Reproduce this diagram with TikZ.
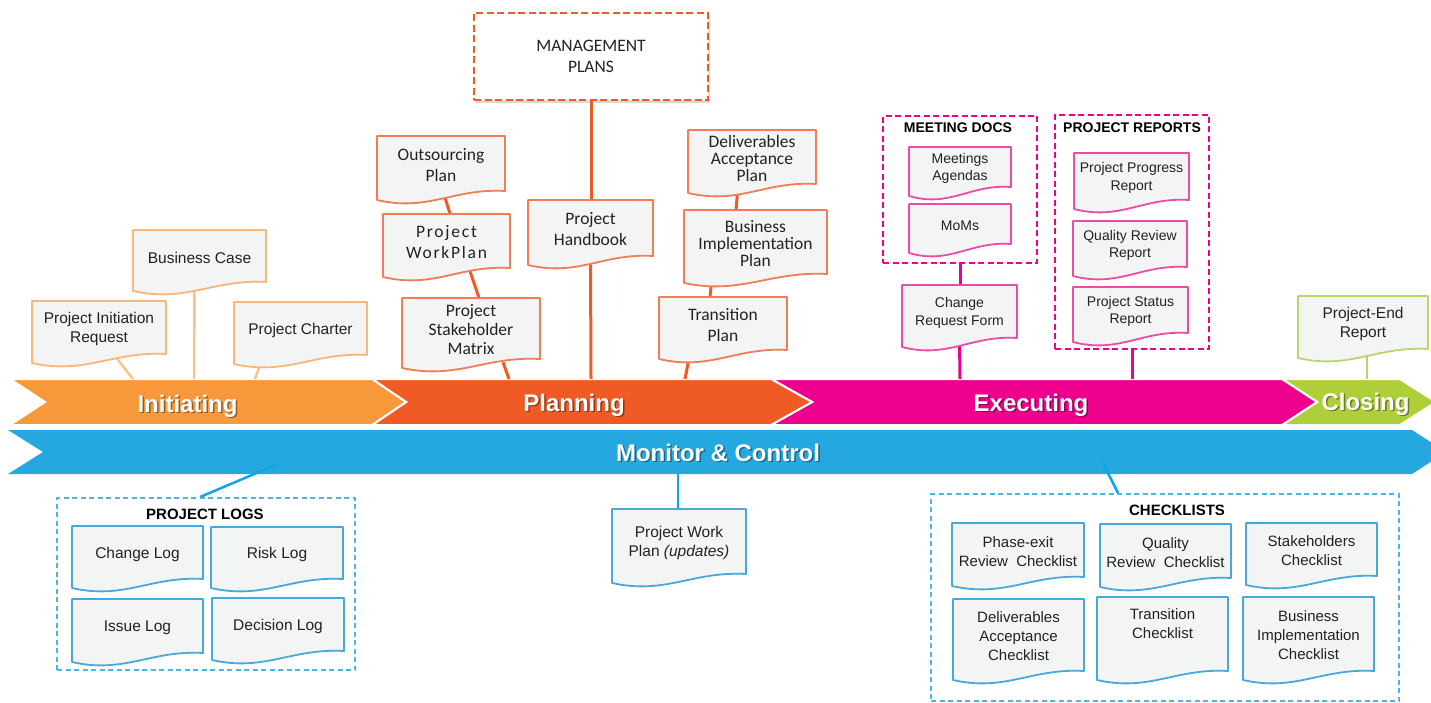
\documentclass[tikz,border=0pt]{standalone}
\usepackage{fontspec}
\setmainfont{Liberation Sans}
\newfontfamily\calf{Carlito}
\newfontfamily\calfsp[LetterSpace=10]{Carlito}
\usetikzlibrary{shadows}
\pgfdeclarelayer{background}
\pgfsetlayers{background,main}

\definecolor{cInit}{HTML}{F7993B}
\definecolor{cInitL}{HTML}{F9B679}
\definecolor{cInitLine}{HTML}{F9C28F}
\definecolor{cPlan}{HTML}{EF5A25}
\definecolor{cPlanL}{HTML}{F27C55}
\definecolor{cExec}{HTML}{EC008C}
\definecolor{cExecL}{HTML}{EE4BA6}
\definecolor{cClose}{HTML}{AFCF3A}
\definecolor{cCloseL}{HTML}{B7D670}
\definecolor{cMon}{HTML}{25A8E0}
\definecolor{cMonL}{HTML}{47A9DB}
\definecolor{cMonLine}{HTML}{12A3E6}
\definecolor{cMonDash}{HTML}{4DB5E6}
\definecolor{docgray}{HTML}{F3F4F4}
\definecolor{txt}{HTML}{222222}

\newcommand{\myfA}{\fontsize{15.5}{19}\selectfont}
\newcommand{\myfM}{\fontsize{15}{19}\selectfont}
\newcommand{\myfS}{\fontsize{14}{17.3}\selectfont}
\newcommand{\myfC}{\calf\fontsize{17.5}{21}\selectfont}
\newcommand{\myfCm}{\calf\fontsize{17.5}{19}\selectfont}
\newcommand{\myfCt}{\calf\fontsize{17.5}{16.7}\selectfont}
\newcommand{\myfCsp}{\calfsp\fontsize{17.5}{21}\selectfont}

% name, x0, y0, x1, y-bottom-left, colour, font, text
\newcommand{\docnode}[8]{%
  \pgfmathsetmacro\dA{#2+0.6*(#4-#2)}%
  \pgfmathsetmacro\dB{#2+0.4*(#4-#2)}%
  \pgfmathsetmacro\dC{(#2+#4)/2}%
  \pgfmathsetmacro\dD{(#3+#5-6)/2}%
  \pgfmathsetmacro\dW{#4-#2}%
  \pgfmathsetmacro\dH{#5-6-#3}%
  \filldraw[docshape,draw=#6] (#2,#3) -- (#4,#3) -- (#4,#5-9) .. controls (\dA,#5-12) and (\dB,#5+12) .. (#2,#5) -- cycle;
  \node[doctext,font=#7,minimum width=\dW pt,minimum height=\dH pt] (#1) at (\dC,\dD) {#8};
}

\begin{document}
\begin{tikzpicture}[x=1pt,y=-1pt,
  docshape/.style={fill=docgray,line width=1.8pt,line join=round},
  doctext/.style={text=txt,align=center,inner sep=0pt},
  grp/.style={draw,line width=2pt,inner sep=0pt},
  grpmag/.style={grp,draw=cExec,dash pattern=on 6pt off 3.5pt},
  grpblue/.style={grp,draw=cMonDash,dash pattern=on 5pt off 3.5pt},
  grptitle/.style={font=\bfseries\fontsize{15}{17}\selectfont,text=black,inner sep=0pt},
  grptitles/.style={font=\bfseries\fontsize{14}{16}\selectfont,text=black,inner sep=0pt},
  initline/.style={draw=cInitLine,line width=2.5pt},
  planline/.style={draw=cPlan,line width=3pt},
  execline/.style={draw=cExec,line width=3pt},
  closeline/.style={draw=cCloseL,line width=1.5pt},
  monline/.style={draw=cMonLine,line width=2.5pt},
  bandedge/.style={draw=white,line width=2pt,line join=miter},
  phase/.style={anchor=base,font=\bfseries\fontsize{24}{26}\selectfont,text=white,inner sep=0pt},
  phasesh/.style={phase,text=black,opacity=0.4},
]
\useasboundingbox (0,0) rectangle (1431,703);

% ---------- bands ----------
\begin{pgfonlayer}{background}
\path[fill=cMon] (8,430) -- (1412,430) -- (1446,452) -- (1412,474) -- (8,474) -- (43,452) -- cycle;
\path[fill=cClose,bandedge] (1282,379) -- (1400,379) -- (1436,402) -- (1400,425) -- (1282,425) -- (1317,402) -- cycle;
\path[fill=cExec,bandedge] (771,379) -- (1282,379) -- (1317,402) -- (1282,425) -- (771,425) -- (812,402) -- cycle;
\path[fill=cPlan,bandedge] (372,379) -- (771,379) -- (812,402) -- (771,425) -- (372,425) -- (406,402) -- cycle;
\path[fill=cInit,bandedge] (10,379) -- (372,379) -- (406,402) -- (372,425) -- (10,425) -- (45,402) -- cycle;
\end{pgfonlayer}

% ---------- phase labels ----------
\node[phasesh] (sInit) at (189,413.5) {Initiating};
\node[phase] (tInit) at (187.5,412) {Initiating};
\node[phasesh] (sPlan) at (575.5,412.5) {Planning};
\node[phase] (tPlan) at (574,411) {Planning};
\node[phasesh] (sExec) at (1032.5,412.5) {Executing};
\node[phase] (tExec) at (1031,411) {Executing};
\node[phasesh] (sClose) at (1367,411.5) {Closing};
\node[phase] (tClose) at (1365.5,410) {Closing};
\node[phasesh] (sMon) at (719.5,462.5) {Monitor \& Control};
\node[phase] (tMon) at (718,461) {Monitor \& Control};

% ---------- band anchor points ----------
\coordinate (bI1) at (133,379);
\coordinate (bI2) at (194,379);
\coordinate (bI3) at (255,379);
\coordinate (bP1) at (509,379);
\coordinate (bP2) at (591,379);
\coordinate (bP3) at (685,379);
\coordinate (bE1) at (960,379);
\coordinate (bE2) at (1132,379);
\coordinate (bC1) at (1367,379);
\coordinate (mB1) at (278,464);
\coordinate (mB2) at (678,474);
\coordinate (mB3) at (1103,463);

% ---------- Initiating ----------
\docnode{bcase}{133}{230}{266}{291}{cInitL}{\myfA}{Business Case}
\docnode{pir}{32}{301}{166}{363}{cInitL}{\myfA}{Project Initiation\\Request}
\docnode{pchar}{234}{302}{367}{364}{cInitL}{\myfA}{Project Charter}

% ---------- Planning ----------
\node[draw=cPlan,line width=2pt,dash pattern=on 7pt off 3.5pt,fill=white,
      minimum width=234pt,minimum height=87pt,inner sep=0pt,align=center,
      font=\myfC,text=txt,
      drop shadow={shadow xshift=2pt,shadow yshift=-3pt,opacity=0.3}] (mgmt) at (591,56.5) {MANAGEMENT\\PLANS};
\docnode{outs}{377}{136}{505}{200}{cPlanL}{\myfC}{Outsourcing\\Plan}
\docnode{wplan}{383}{214}{510}{277}{cPlanL}{\myfCsp}{Project\\WorkPlan}
\docnode{stake}{402}{298}{540}{368}{cPlanL}{\myfCm}{Project\\Stakeholder\\Matrix}
\docnode{hand}{528}{200}{653}{265}{cPlanL}{\myfC}{Project\\Handbook}
\docnode{deliv}{688}{130}{816}{193}{cPlanL}{\myfCt}{Deliverables\\Acceptance\\Plan}
\docnode{bimpl}{684}{210}{827}{283}{cPlanL}{\myfCt}{Business\\Implementation\\Plan}
\docnode{trans}{659}{297}{787}{359}{cPlanL}{\myfC}{Transition\\Plan}

% ---------- Executing ----------
\node[grpmag,minimum width=154pt,minimum height=147pt] (meet) at (960,189.5) {};
\node[grptitles] (meettitle) at (958,128) {MEETING DOCS};
\node[grpmag,minimum width=154pt,minimum height=234pt] (reports) at (1132,232) {};
\node[grptitles] (reptitle) at (1132,128) {PROJECT REPORTS};
\docnode{magd}{909}{147}{1011}{196}{cExecL}{\myfS}{Meetings\\Agendas}
\docnode{moms}{909}{204}{1011}{253}{cExecL}{\myfS}{MoMs}
\docnode{crf}{902}{285}{1017}{347}{cExecL}{\myfS}{Change\\Request Form}
\docnode{ppr}{1074}{153}{1189}{209}{cExecL}{\myfS}{Project Progress\\Report}
\docnode{qrr}{1073}{221}{1187}{276}{cExecL}{\myfS}{Quality Review\\Report}
\docnode{psr}{1073}{287}{1188}{342}{cExecL}{\myfS}{Project Status\\Report}

% ---------- Closing ----------
\docnode{pend}{1298}{296}{1428}{358}{cCloseL}{\myfA}{Project-End\\Report}

% ---------- Monitor & Control ----------
\node[grpblue,minimum width=298pt,minimum height=172pt] (logs) at (206,584) {};
\node[grptitle] (logstitle) at (205,514) {PROJECT LOGS};
\docnode{chlog}{72}{526}{203}{588}{cMonL}{\myfA}{Change Log}
\docnode{risklog}{211}{527}{343}{588}{cMonL}{\myfA}{Risk Log}
\docnode{isslog}{72}{599}{203}{662}{cMonL}{\myfA}{Issue Log}
\docnode{declog}{212}{598}{344}{660}{cMonL}{\myfA}{Decision Log}

\docnode{pwp}{612}{509}{746}{583}{cMonL}{\myfA}{Project Work\\Plan \textit{(updates)}}

\node[grpblue,minimum width=468pt,minimum height=207pt] (checks) at (1165,597.5) {};
\node[grptitle] (checkstitle) at (1177,510) {CHECKLISTS};
\docnode{cla}{952}{523}{1084}{586}{cMonL}{\myfM}{Phase-exit\\Review\ \ Checklist}
\docnode{clb}{1100}{524}{1231}{587}{cMonL}{\myfM}{Quality\\Review\ \ Checklist}
\docnode{clc}{1246}{523}{1377}{585}{cMonL}{\myfM}{Stakeholders\\Checklist}
\docnode{cld}{953}{599}{1084}{680}{cMonL}{\myfM}{Deliverables\\Acceptance\\Checklist}
\docnode{cle}{1097}{597}{1228}{680}{cMonL}{\myfM}{Transition\\Checklist\\\strut}
\docnode{clf}{1243}{597}{1374}{680}{cMonL}{\myfM}{Business\\Implementation\\Checklist}

% ---------- connectors ----------
\begin{pgfonlayer}{background}
\draw[initline] ([xshift=17pt]pir.south) -- (bI1);
\draw[initline] ([xshift=-5pt]bcase.south) -- (bI2);
\draw[initline] ([xshift=-38pt]pchar.south) -- (bI3);

\draw[planline] (mgmt.south) -- (mgmt.south |- hand.north);
\draw[planline] (hand.south) -- (bP2);
\draw[planline] ([xshift=3pt]outs.south) -- ([xshift=3.5pt]wplan.north);
\draw[planline] ([xshift=23.5pt]wplan.south) -- ([xshift=8pt]stake.north);
\draw[planline] ([xshift=32pt]stake.south) -- (bP1);
\draw[planline] ([xshift=-14pt]deliv.south) -- ([xshift=-19.5pt]bimpl.north);
\draw[planline] ([xshift=-43.5pt]bimpl.south) -- ([xshift=-13pt]trans.north);
\draw[planline] ([xshift=-33pt]trans.south) -- (bP3);

\draw[execline] (meet.south) -- (meet.south |- crf.north);
\draw[execline] (crf.south) -- (bE1);
\draw[execline] (reports.south) -- (bE2);

\draw[closeline] ([xshift=4pt]pend.south) -- (bC1);

\draw[monline] ([xshift=-6pt]logs.north) -- (mB1);
\draw[monline] (mB2) -- (mB2 |- pwp.north);
\draw[monline] ([xshift=-47pt]checks.north) -- (mB3);
\end{pgfonlayer}
\end{tikzpicture}
\end{document}
